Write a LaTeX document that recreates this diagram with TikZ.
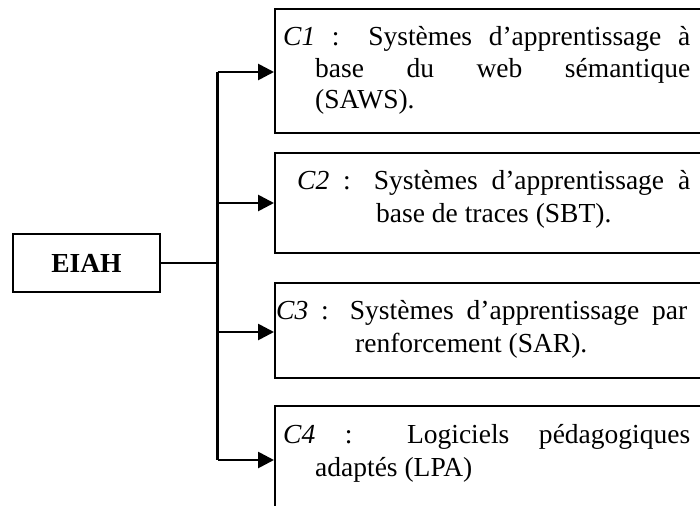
\documentclass[tikz,border=0pt]{standalone}
\usepackage{fontspec}
\setmainfont{Liberation Serif}
\usetikzlibrary{arrows.meta}
\begin{document}
\begin{tikzpicture}[x=1pt,y=-1pt,
 cbox/.style={draw, line width=1.6pt, anchor=north west, inner sep=0, minimum width=440pt},
 lbl/.style={anchor=base west, inner sep=0, font=\fontsize{27.5}{32}\selectfont},
 conn/.style={line width=2.7pt},
 arr/.style={conn, -{Triangle[length=16pt,width=16pt]}}]
\useasboundingbox (0,0) rectangle (700,505);
\clip (0,0) rectangle (700,505);
% main box
\node[draw, line width=1.6pt, minimum width=147pt, minimum height=58pt, inner sep=0,
      font=\fontsize{27.5}{30}\selectfont\bfseries] (eiah) at (86.5,263) {EIAH};
% category boxes
\node[cbox, minimum height=124pt] (c1) at (274,8) {};
\node[cbox, minimum height=100pt] (c2) at (274,152) {};
\node[cbox, minimum height=95pt] (c3) at (274,282) {};
\node[cbox, minimum height=130pt] (c4) at (274,405) {};
% texts
\node[lbl] (c1a) at (283,46) {\makebox[407pt][s]{\textit{C1} : Systèmes d’apprentissage à}};
\node[lbl] (c1b) at (315,78) {\makebox[375pt][s]{base du web sémantique}};
\node[lbl] (c1c) at (315,109) {(SAWS).};
\node[lbl] (c2a) at (297,189) {\makebox[393pt][s]{\textit{C2} : Systèmes d’apprentissage à}};
\node[lbl] (c2b) at (376,222) {base de traces (SBT).};
\node[lbl] (c3a) at (276,319) {\makebox[411pt][s]{\textit{C3} : Systèmes d’apprentissage par}};
\node[lbl] (c3b) at (355,352) {renforcement (SAR).};
\node[lbl] (c4a) at (283,443) {\makebox[407pt][s]{\textit{C4} : Logiciels pédagogiques}};
\node[lbl] (c4b) at (315,476) {adaptés (LPA)};
% connectors
\coordinate (bus) at (217.5,263);
\coordinate (j1) at (217.5,72);
\coordinate (j2) at (217.5,203);
\coordinate (j3) at (217.5,332);
\coordinate (j4) at (217.5,460);
\draw[conn] (eiah.east) -- (bus);
\draw[conn] (j1) -- (j4);
\draw[arr] (j1) -- (j1 -| c1.west);
\draw[arr] (j2) -- (j2 -| c2.west);
\draw[arr] (j3) -- (j3 -| c3.west);
\draw[arr] (j4) -- (j4 -| c4.west);
\end{tikzpicture}
\end{document}
